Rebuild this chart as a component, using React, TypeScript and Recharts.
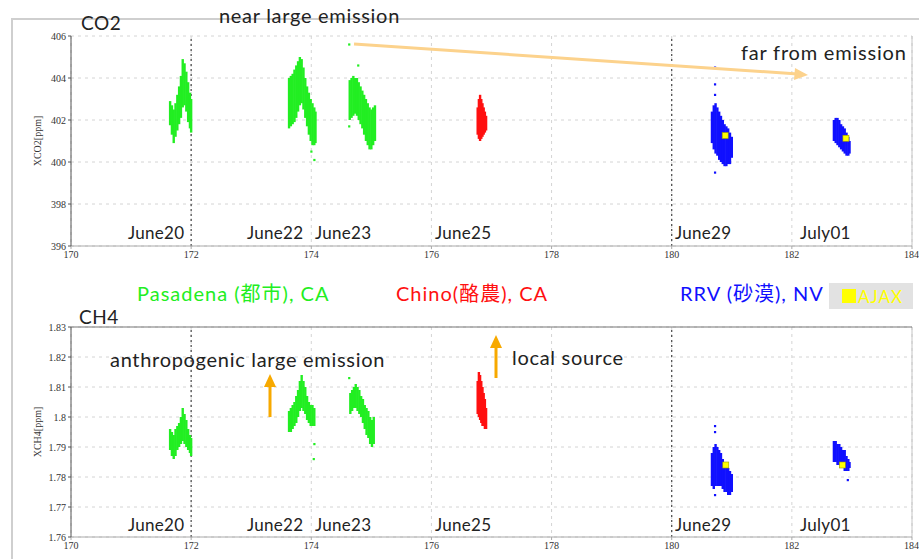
import React from 'react'
import {
  ScatterChart,
  Scatter,
  XAxis,
  YAxis,
  CartesianGrid,
  ErrorBar,
  ReferenceLine,
  Label,
} from 'recharts'

// [day of year, low, high] columns of the dense retrieval clusters
const co2Pasadena: [number, number, number][] = [
  [171.65, 401.75, 402.9], [171.68, 401.3, 402.7], [171.71, 400.9, 402.5], [171.74, 401.2, 402.8],
  [171.77, 401.5, 403.2], [171.8, 401.8, 403.6], [171.83, 402.1, 404.1], [171.86, 402.6, 404.9],
  [171.89, 402.7, 404.7], [171.92, 402.4, 404.3], [171.95, 401.9, 403.8], [171.98, 401.6, 403.3],
  [172.0, 401.4, 403.0],
  [173.63, 401.6, 404.0], [173.66, 401.7, 404.1], [173.69, 401.8, 404.2], [173.72, 401.9, 404.4],
  [173.75, 402.1, 404.6], [173.78, 402.4, 404.8], [173.81, 402.7, 405.0], [173.84, 402.8, 404.9],
  [173.87, 402.5, 404.5], [173.9, 402.1, 404.0], [173.93, 401.7, 403.6], [173.96, 401.3, 403.3],
  [173.99, 401.0, 403.0], [174.02, 400.8, 402.8], [174.05, 400.8, 402.6], [174.07, 400.9, 402.4],
  [174.64, 402.0, 403.9], [174.67, 402.1, 404.0], [174.7, 402.2, 404.1], [174.73, 402.3, 404.0],
  [174.76, 402.2, 404.0], [174.79, 402.0, 403.8], [174.82, 401.8, 403.6], [174.85, 401.6, 403.4],
  [174.88, 401.3, 403.2], [174.91, 401.0, 403.0], [174.94, 400.8, 402.8], [174.97, 400.6, 402.6],
  [175.0, 400.6, 402.5], [175.03, 400.8, 402.6], [175.06, 401.0, 402.7],
]
const co2PasadenaOutliers: [number, number][] = [
  [174.05, 400.1], [174.0, 400.5], [174.63, 405.6], [174.63, 401.7], [174.78, 404.6],
]
const co2Chino: [number, number, number][] = [
  [176.77, 401.3, 402.6], [176.79, 401.1, 403.0], [176.81, 401.0, 403.2], [176.83, 401.1, 403.0],
  [176.85, 401.2, 402.8], [176.87, 401.3, 402.6], [176.89, 401.4, 402.4], [176.91, 401.5, 402.2],
]
const co2Rrv: [number, number, number][] = [
  [180.67, 400.9, 402.4], [180.7, 400.6, 402.7], [180.73, 400.4, 402.8], [180.76, 400.3, 402.6],
  [180.79, 400.1, 402.4], [180.82, 400.0, 402.2], [180.85, 399.9, 402.0], [180.88, 399.8, 401.8],
  [180.91, 399.8, 401.7], [180.94, 399.9, 401.6], [180.97, 399.9, 401.4], [181.0, 400.2, 401.2],
  [182.7, 401.0, 402.0], [182.73, 400.9, 402.1], [182.76, 400.8, 402.1], [182.79, 400.7, 402.0],
  [182.82, 400.6, 401.8], [182.85, 400.5, 401.7], [182.88, 400.4, 401.6], [182.91, 400.3, 401.4],
  [182.94, 400.3, 401.2], [182.96, 400.4, 401.0],
]
const co2RrvOutliers: [number, number][] = [
  [180.72, 404.5], [180.72, 403.7], [180.72, 403.2], [180.72, 399.5],
]
const co2Ajax: [number, number][] = [[180.89, 401.26], [182.9, 401.13]]

const ch4Pasadena: [number, number, number][] = [
  [171.65, 1.789, 1.796], [171.68, 1.787, 1.795], [171.71, 1.786, 1.794], [171.74, 1.787, 1.796],
  [171.77, 1.789, 1.797], [171.8, 1.79, 1.798], [171.83, 1.791, 1.8], [171.86, 1.792, 1.803],
  [171.89, 1.791, 1.801], [171.92, 1.79, 1.799], [171.95, 1.789, 1.796], [171.98, 1.788, 1.794],
  [172.0, 1.787, 1.793],
  [173.63, 1.795, 1.802], [173.66, 1.795, 1.803], [173.69, 1.796, 1.804], [173.72, 1.797, 1.805],
  [173.75, 1.798, 1.807], [173.78, 1.8, 1.809], [173.81, 1.802, 1.812], [173.84, 1.803, 1.814],
  [173.87, 1.802, 1.812], [173.9, 1.801, 1.81], [173.93, 1.799, 1.807], [173.96, 1.798, 1.805],
  [173.99, 1.797, 1.804], [174.02, 1.797, 1.804], [174.05, 1.797, 1.803],
  [174.65, 1.801, 1.808], [174.68, 1.802, 1.809], [174.71, 1.803, 1.81], [174.74, 1.803, 1.811],
  [174.77, 1.802, 1.81], [174.8, 1.801, 1.809], [174.83, 1.8, 1.807], [174.86, 1.798, 1.806],
  [174.89, 1.796, 1.804], [174.92, 1.794, 1.803], [174.95, 1.793, 1.802], [174.98, 1.791, 1.8],
  [175.01, 1.79, 1.799], [175.04, 1.791, 1.8],
]
const ch4PasadenaOutliers: [number, number][] = [[174.05, 1.791], [174.04, 1.786], [174.63, 1.813]]
const ch4Chino: [number, number, number][] = [
  [176.77, 1.801, 1.812], [176.79, 1.8, 1.815], [176.81, 1.799, 1.814], [176.83, 1.798, 1.812],
  [176.85, 1.797, 1.81], [176.87, 1.797, 1.808], [176.89, 1.796, 1.806], [176.91, 1.796, 1.803],
]
const ch4Rrv: [number, number, number][] = [
  [180.67, 1.777, 1.788], [180.7, 1.776, 1.79], [180.73, 1.777, 1.791], [180.76, 1.777, 1.79],
  [180.79, 1.777, 1.789], [180.82, 1.777, 1.788], [180.85, 1.776, 1.786], [180.88, 1.775, 1.785],
  [180.91, 1.775, 1.784], [180.94, 1.774, 1.783], [180.97, 1.774, 1.782], [181.0, 1.775, 1.781],
  [182.7, 1.785, 1.792], [182.73, 1.785, 1.792], [182.76, 1.784, 1.791], [182.79, 1.784, 1.791],
  [182.82, 1.783, 1.79], [182.85, 1.783, 1.789], [182.88, 1.782, 1.789], [182.91, 1.782, 1.787],
  [182.94, 1.782, 1.786], [182.96, 1.783, 1.785],
]
const ch4RrvOutliers: [number, number][] = [[180.72, 1.797], [180.72, 1.795], [180.72, 1.774], [182.93, 1.779]]
const ch4Ajax: [number, number][] = [[180.9, 1.784], [182.84, 1.784]]

const xTicks = [170, 172, 174, 176, 178, 180, 182, 184]
const co2Ticks = [396, 398, 400, 402, 404, 406]
const ch4Ticks = [1.76, 1.77, 1.78, 1.79, 1.8, 1.81, 1.82, 1.83]
const darkDays = [172, 180]

const GREEN = '#22ee22'
const RED = '#ff1010'
const BLUE = '#1010ff'
const SANS = 'Lato, "Noto Sans", sans-serif'
const CJK = 'Lato, "Noto Sans CJK JP", sans-serif'

const toCols = (rows: [number, number, number][]) =>
  rows.map(([x, lo, hi]) => ({ x, y: (lo + hi) / 2, e: (hi - lo) / 2 }))
const toPts = (rows: [number, number][]) => rows.map(([x, y]) => ({ x, y }))

const hidden = () => <g />
const dot = (color: string) => (p: any) => (
  <rect x={p.cx - 1} y={p.cy - 1} width={2.2} height={2.2} fill={color} />
)
const ajaxDot = (p: any) => (
  <rect x={p.cx - 3} y={p.cy - 3} width={6} height={6} fill="#ffff00" stroke="#9a9a00" strokeWidth={0.6} />
)

const tickStyle = { fontSize: 10, fill: '#333', fontFamily: '"Liberation Serif", serif' }

function Panel({
  cols, outliers, ajax, ticks, domain, label, top, height, marginTop, marginBottom, boxTop,
}: any) {
  return (
    <div style={{ position: 'absolute', left: 0, top }}>
      <ScatterChart width={919} height={height} margin={{ top: marginTop, right: 7, bottom: marginBottom, left: 0 }}>
        <CartesianGrid stroke="#d4d4d4" strokeDasharray="3 4" />
        <XAxis
          dataKey="x" type="number" domain={[170, 184]} ticks={xTicks} height={18}
          tick={tickStyle} tickSize={3} stroke="#aaa" allowDataOverflow
        />
        <YAxis
          dataKey="y" type="number" domain={domain} ticks={ticks} width={71}
          tick={tickStyle} tickSize={3} stroke="#555" allowDataOverflow
          tickFormatter={(v: number) => String(Number(v.toFixed(2)))}
        >
          <Label value={label} angle={-90} position="insideLeft" offset={37}
            style={{ fontSize: 10, fill: '#333', fontFamily: '"Liberation Serif", serif', textAnchor: 'middle' }} />
        </YAxis>
        {darkDays.map((d) => (
          <ReferenceLine key={d} x={d} stroke="#444" strokeDasharray="2 3" strokeWidth={1.2} />
        ))}
        <ReferenceLine x={184} stroke="#c4c4c4" />
        {boxTop && <ReferenceLine y={domain[1]} stroke="#777" strokeWidth={1.2} />}
        {cols.map((c: any, i: number) => (
          <Scatter key={`c${i}`} data={toCols(c.rows)} shape={hidden} isAnimationActive={false}>
            <ErrorBar dataKey="e" direction="y" width={0} stroke={c.color} strokeWidth={2.4} isAnimationActive={false} />
          </Scatter>
        ))}
        {outliers.map((o: any, i: number) => (
          <Scatter key={`o${i}`} data={toPts(o.rows)} shape={dot(o.color)} isAnimationActive={false} />
        ))}
        <Scatter data={toPts(ajax)} shape={ajaxDot} isAnimationActive={false} />
      </ScatterChart>
    </div>
  )
}

const txt = (left: number, top: number, size: number, color: string, spacing = 0, font = SANS): React.CSSProperties => ({
  position: 'absolute', left, top, fontSize: size, color, fontFamily: font, lineHeight: 1,
  transform: 'translateY(-50%)', whiteSpace: 'nowrap', letterSpacing: spacing,
})

const dateLabels: [string, number][] = [
  ['June20', 128], ['June22', 247], ['June23', 315], ['June25', 435], ['June29', 675], ['July01', 800],
]

export default function App() {
  return (
    <div style={{ position: 'absolute', left: 0, top: 0, width: 919, height: 559, background: '#fff', overflow: 'hidden' }}>
      <div style={{ position: 'absolute', left: 11, top: 18, width: 920, height: 560, borderTop: '2px solid #cfcfcf', borderLeft: '2px solid #cfcfcf' }} />
      <Panel
        top={0} height={280} marginTop={36} marginBottom={16} domain={[396, 406]} ticks={co2Ticks}
        label="XCO2[ppm]" boxTop={false}
        cols={[
          { rows: co2Pasadena, color: GREEN },
          { rows: co2Chino, color: RED },
          { rows: co2Rrv, color: BLUE },
        ]}
        outliers={[
          { rows: co2PasadenaOutliers, color: GREEN },
          { rows: co2RrvOutliers, color: BLUE },
        ]}
        ajax={co2Ajax}
      />
      <Panel
        top={280} height={279} marginTop={47} marginBottom={4} domain={[1.76, 1.83]} ticks={ch4Ticks}
        label="XCH4[ppm]" boxTop
        cols={[
          { rows: ch4Pasadena, color: GREEN },
          { rows: ch4Chino, color: RED },
          { rows: ch4Rrv, color: BLUE },
        ]}
        outliers={[
          { rows: ch4PasadenaOutliers, color: GREEN },
          { rows: ch4RrvOutliers, color: BLUE },
        ]}
        ajax={ch4Ajax}
      />

      <svg width={919} height={559} style={{ position: 'absolute', left: 0, top: 0, pointerEvents: 'none' }}>
        <line x1={354} y1={44} x2={798} y2={74} stroke="#fcd28c" strokeWidth={3} />
        <polygon points="808,75 795,68 794,80" fill="#fcd28c" />
        <line x1={270} y1={417} x2={270} y2={386} stroke="#f7a900" strokeWidth={3} />
        <polygon points="270,374 264,387 276,387" fill="#f7a900" />
        <line x1={496} y1={378} x2={496} y2={347} stroke="#f7a900" strokeWidth={3} />
        <polygon points="496,335 490,348 502,348" fill="#f7a900" />
      </svg>

      <div style={txt(81, 22, 19, '#222', 0.5)}>CO2</div>
      <div style={txt(219, 15, 20, '#222', 0.7)}>near large emission</div>
      <div style={txt(741, 52, 20, '#222', 0.8)}>far from emission</div>
      {dateLabels.map(([t, x]) => (
        <div key={`a${t}`} style={txt(x, 232, 17, '#222', 0.3)}>{t}</div>
      ))}

      <div style={txt(137, 293, 20, GREEN, 1, CJK)}>Pasadena (都市), CA</div>
      <div style={txt(396, 293, 20, RED, 1, CJK)}>Chino(酪農), CA</div>
      <div style={txt(680, 293, 20, BLUE, 1, CJK)}>RRV (砂漠), NV</div>
      <div style={{ position: 'absolute', left: 829, top: 283, width: 84, height: 26, background: '#e2e2e2' }} />
      <div style={{ position: 'absolute', left: 842, top: 289, width: 14, height: 14, background: '#ffff00' }} />
      <div style={txt(858, 296, 17, '#ffff00', 1)}>AJAX</div>

      <div style={txt(79, 316, 19, '#222', 0.5)}>CH4</div>
      <div style={txt(110, 359, 20, '#222', 0.7)}>anthropogenic large emission</div>
      <div style={txt(512, 357, 20, '#222', 0.7)}>local source</div>
      {dateLabels.map(([t, x]) => (
        <div key={`b${t}`} style={txt(x, 524, 17, '#222', 0.3)}>{t}</div>
      ))}
    </div>
  )
}
